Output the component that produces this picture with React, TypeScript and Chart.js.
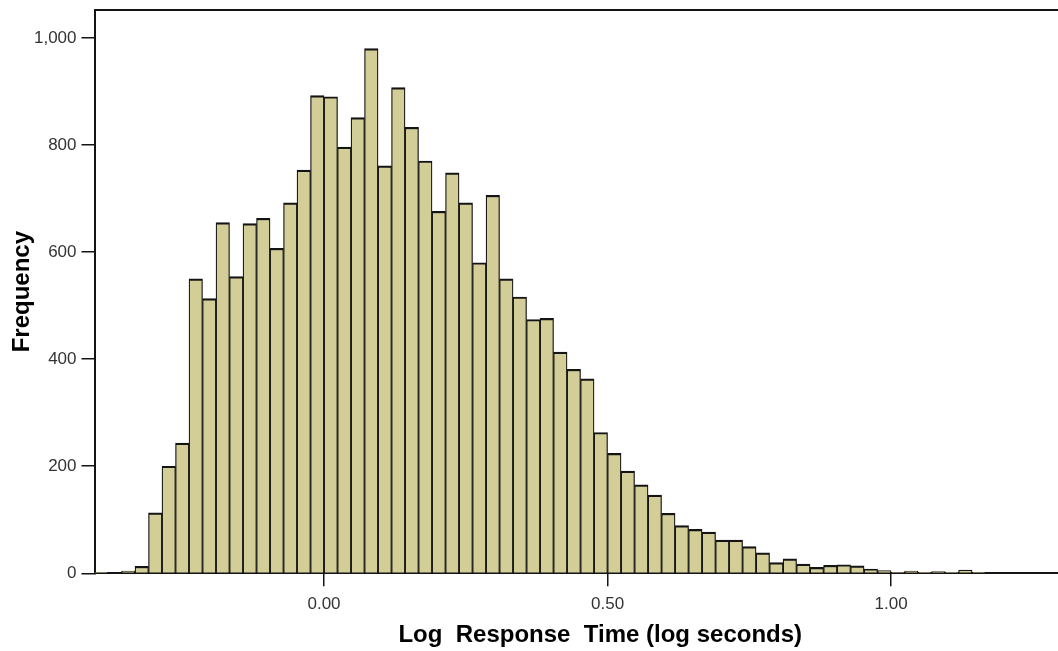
import React, { useEffect, useRef } from "react";
import { Chart, registerables } from "chart.js";

Chart.register(...registerables);

// Histogram bins: width and index of the first bin (relative to 0)
const BIN_WIDTH = 0.5 / 21;
const FIRST_BIN = -17;

// Frequencies per bin, left to right
const frequencies = [
  1, 0, 4, 13, 113, 200, 243, 550, 513, 655, 554, 653, 663, 607, 692, 753, 892,
  890, 796, 851, 980, 761, 907, 833, 770, 676, 748, 692, 580, 706, 550, 516, 474,
  476, 413, 381, 363, 263, 224, 191, 165, 146, 112, 89, 82, 77, 62, 62, 50, 38,
  20, 27, 17, 11, 15, 16, 14, 8, 5, 2, 4, 1, 3, 1, 6, 2,
];

const xTickValues = [0, 0.5, 1.0];
const yTickValues = [0, 200, 400, 600, 800, 1000];

const X_MIN = FIRST_BIN * BIN_WIDTH;
const X_MAX = 1.379;
const Y_MAX = 1052;

const X_TITLE = "Log  Response  Time (log seconds)";
const Y_TITLE = "Frequency";

const FONT = '"Liberation Sans", Arial, Helvetica, sans-serif';
const AXIS_COLOR = "#141414";

export default function App() {
  const canvasRef = useRef<HTMLCanvasElement | null>(null);

  useEffect(() => {
    if (!canvasRef.current) return;
    const points = frequencies.map((f, i) => ({
      x: (FIRST_BIN + i + 0.5) * BIN_WIDTH,
      y: f,
    }));

    const chart = new Chart(canvasRef.current, {
      type: "bar",
      data: {
        datasets: [
          {
            data: points as any,
            backgroundColor: "#d3ce98",
            borderColor: AXIS_COLOR,
            borderWidth: { top: 2.2, left: 1.25, right: 1.25, bottom: 0 } as any,
            borderSkipped: false as any,
            barPercentage: 1,
            categoryPercentage: 1,
          },
        ],
      },
      options: {
        animation: false,
        responsive: false,
        devicePixelRatio: 1,
        layout: { padding: { top: 10, left: 0, right: 0, bottom: 0 } },
        plugins: {
          legend: { display: false },
          tooltip: { enabled: false },
        },
        scales: {
          x: {
            type: "linear",
            position: "bottom",
            min: X_MIN,
            max: X_MAX,
            offset: false,
            afterBuildTicks: (s: any) => {
              s.ticks = xTickValues.map((v) => ({ value: v }));
            },
            afterFit: (s: any) => {
              s.height = 77.7;
              s.paddingLeft = 0;
              s.paddingRight = 0;
            },
            ticks: {
              autoSkip: false,
              maxRotation: 0,
              padding: 8,
              color: "#333",
              font: { family: FONT, size: 17 },
              callback: (v: any) => Number(v).toFixed(2),
            },
            grid: {
              display: true,
              offset: false,
              drawOnChartArea: false,
              drawTicks: true,
              tickLength: 13,
              color: AXIS_COLOR,
              lineWidth: 1.5,
            },
            border: { display: true, color: AXIS_COLOR, width: 2 },
            title: {
              display: true,
              text: X_TITLE,
              color: "#000",
              font: { family: FONT, size: 24, weight: "bold" },
              padding: { top: 0, bottom: 1 },
            },
          },
          xTop: {
            type: "linear",
            position: "top",
            min: X_MIN,
            max: X_MAX,
            afterFit: (s: any) => {
              s.height = 0;
            },
            ticks: { display: false },
            grid: { display: false, drawTicks: false },
            border: { display: true, color: AXIS_COLOR, width: 2 },
          },
          y: {
            type: "linear",
            position: "left",
            min: 0,
            max: Y_MAX,
            afterBuildTicks: (s: any) => {
              s.ticks = yTickValues.map((v) => ({ value: v }));
            },
            afterFit: (s: any) => {
              s.width = 94.5;
              s.paddingTop = 0;
              s.paddingBottom = 0;
            },
            ticks: {
              autoSkip: false,
              padding: 5,
              color: "#333",
              font: { family: FONT, size: 17 },
              callback: (v: any) => Number(v).toLocaleString("en-US"),
            },
            grid: {
              display: true,
              drawOnChartArea: false,
              drawTicks: true,
              tickLength: 13,
              color: AXIS_COLOR,
              lineWidth: 1.5,
            },
            border: { display: true, color: AXIS_COLOR, width: 2 },
            title: {
              display: true,
              text: Y_TITLE,
              color: "#000",
              font: { family: FONT, size: 24, weight: "bold" },
              padding: { top: 8, bottom: 0 },
            },
          },
        },
      } as any,
    });

    return () => chart.destroy();
  }, []);

  return (
    <div
      style={{
        position: "fixed",
        left: 0,
        top: 0,
        width: 1058,
        height: 651,
        overflow: "hidden",
        background: "#fff",
      }}
    >
      <canvas
        ref={canvasRef}
        width={1106}
        height={651}
        style={{ display: "block", width: 1106, height: 651 }}
      />
    </div>
  );
}
